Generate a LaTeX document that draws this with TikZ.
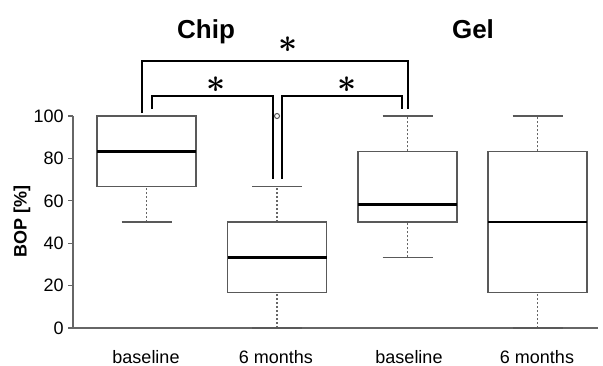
\documentclass[tikz,border=0pt]{standalone}
\usepackage{fontspec}
\setmainfont{Liberation Sans}

\begin{document}
\begin{tikzpicture}[x=0.75pt,y=-0.75pt,
    axisline/.style={draw=black!60, line width=0.8pt},
    boxline/.style={draw=black!65, line width=0.8pt},
    whisk/.style={draw=black!60, line width=0.8pt, dash pattern=on 1.6pt off 1.4pt},
    medline/.style={draw=black, line width=2pt},
    sigline/.style={draw=black, line width=1.5pt},
    grouplabel/.style={font=\fontsize{19.5}{20}\selectfont\bfseries, anchor=base, inner sep=0pt},
    ticklabel/.style={font=\fontsize{13.5}{14}\selectfont, anchor=east, inner sep=0pt},
    catlabel/.style={font=\fontsize{13.5}{14}\selectfont, anchor=base, inner sep=0pt},
    starlabel/.style={font=\fontsize{24.88}{25}\selectfont\boldmath, inner sep=0pt}]

    % Fix the size of the picture (pixels of the reference)
    \useasboundingbox (0,0) rectangle (603,365);

    % Plot area: data units upwards, 0 at the x axis
    \begin{scope}[shift={(0,328)}, y=1.59pt]

        % Axes
        \draw[axisline] (73,0) -- (73,100);
        \draw[axisline] (73,0) -- (598,0);

        % Ticks and their labels
        \foreach \v in {0,20,...,100} {
            \draw[axisline] (68,\v) -- (73,\v);
            \node[ticklabel] (tick\v) at (64,\v) {\v};
        }

        % Boxes: centre / lower whisker / Q1 / median / Q3 / upper whisker
        \foreach \cx/\lo/\qa/\md/\qb/\hi in {146.5/50/66.67/83.33/100/100,
                                             277/0/16.67/33.33/50/66.67,
                                             407.5/33.33/50/58.33/83.33/100,
                                             537.5/0/16.67/50/83.33/100} {
            \draw[whisk] (\cx,\lo) -- (\cx,\qa) (\cx,\qb) -- (\cx,\hi);
            \draw[boxline] (\cx-25,\lo) -- (\cx+25,\lo) (\cx-25,\hi) -- (\cx+25,\hi);
            \draw[boxline, fill=white] (\cx-49.5,\qa) rectangle (\cx+49.5,\qb);
            \draw[medline] (\cx-49.5,\md) -- (\cx+49.5,\md);
        }

        % Outlier of the second box
        \draw[boxline] (277,100) circle (1.9pt);

    \end{scope}

    % Significance brackets
    \coordinate (aL) at (142,113);
    \coordinate (aM) at (275,61);
    \coordinate (aR) at (408,109);
    \coordinate (bL) at (152,109);
    \coordinate (bM) at (212,96);
    \coordinate (bR) at (273,179);
    \coordinate (cL) at (282,179);
    \coordinate (cM) at (342,96);
    \coordinate (cR) at (402,109);

    \draw[sigline] (aL) |- (aM) -| (aR);
    \draw[sigline] (bL) |- (bM) -| (bR);
    \draw[sigline] (cL) |- (cM) -| (cR);

    % Stars over the brackets
    \node[starlabel] (starA) at (288,45) {$\ast$};
    \node[starlabel] (starB) at (216,85) {$\ast$};
    \node[starlabel] (starC) at (347,85) {$\ast$};

    % Group titles
    \node[grouplabel] (chip) at (206,38) {Chip};
    \node[grouplabel] (gel) at (473,38) {Gel};

    % Category labels
    \node[catlabel] (base1) at (146,363) {baseline};
    \node[catlabel] (six1) at (276,363) {6 months};
    \node[catlabel] (base2) at (409,363) {baseline};
    \node[catlabel] (six2) at (537,363) {6 months};

    % Axis title
    \node[font=\fontsize{13.5}{14}\selectfont\bfseries, rotate=90, inner sep=0pt] (ytitle) at (22,221) {BOP [\%]};

\end{tikzpicture}
\end{document}
